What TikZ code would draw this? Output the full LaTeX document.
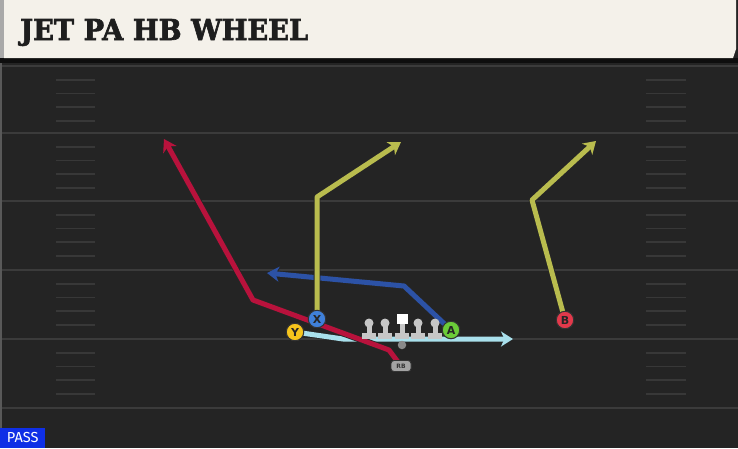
\documentclass[tikz,border=0pt]{standalone}
\usepackage{fontspec}
\usetikzlibrary{arrows.meta}
\newfontfamily\titlefont{DejaVu Serif}[BoldFont=* Bold, BoldFeatures={FakeBold=2.2}]
\newfontfamily\labelfont{DejaVu Sans}
\newfontfamily\passfont{Fira Sans}
\definecolor{fieldbg}{HTML}{242424}
\definecolor{fieldline}{HTML}{3B3B3B}
\definecolor{hashc}{HTML}{383838}
\definecolor{cream}{HTML}{F4F1EA}
\definecolor{edgegrey}{HTML}{A9A9A9}
\definecolor{titlec}{HTML}{1E1E1E}
\definecolor{redroute}{HTML}{B8123C}
\definecolor{blueroute}{HTML}{2C52A6}
\definecolor{oliveroute}{HTML}{B9BC4E}
\definecolor{cyanroute}{HTML}{A9E0EC}
\definecolor{ycol}{HTML}{F6C51C}
\definecolor{xcol}{HTML}{3F80DA}
\definecolor{acol}{HTML}{6BCB39}
\definecolor{bcol}{HTML}{E2394B}
\definecolor{olgrey}{HTML}{C6C6C6}
\definecolor{rbgrey}{HTML}{A3A3A3}
\definecolor{ballgrey}{HTML}{8A8A8A}
\definecolor{passblue}{HTML}{0F2FE6}
\pgfdeclarelayer{fieldlayer}
\pgfdeclarelayer{routelayer}
\pgfsetlayers{fieldlayer,routelayer,main}
\tikzset{
  route/.style={line width=5pt, line join=round, draw=#1,
    -{Stealth[length=12pt,width=15pt,inset=3.5pt]},
    preaction={draw=black!85, line width=6.6pt,
      -{Stealth[length=13.5pt,width=17pt,inset=4pt]}}},
  player/.style={circle, draw=black!80, line width=1pt, fill=#1,
    minimum size=17.5pt, inner sep=0pt, text=black!85,
    font=\labelfont\fontsize{11}{11}\selectfont\bfseries},
  yardline/.style={draw=fieldline, line width=2pt},
  hashmark/.style={draw=hashc, line width=1.8pt},
  olman/.pic={
    \fill[olgrey] (0,-2) circle (4.5);
    \fill[olgrey] (-2.5,-1) rectangle (2.5,9);
    \fill[olgrey] (-7,8) rectangle (7,13.5);
  },
  centerman/.pic={
    \fill[white] (-5.5,-11) rectangle (5.5,-1);
    \fill[olgrey] (-2.5,-1) rectangle (2.5,9);
    \fill[olgrey] (-7,8) rectangle (7,13.5);
  }
}
\begin{document}
\begin{tikzpicture}[x=1pt,y=-1pt]
\useasboundingbox (0,0) rectangle (738,448);
\begin{pgfonlayer}{fieldlayer}
  \fill[fieldbg] (0,0) rectangle (738,448);
  \fill[black!60!fieldbg] (0,58) rectangle (738,63);
  \fill[edgegrey!40!fieldbg] (0,63) rectangle (2,448);
  \foreach \yy in {66,133,201,270,339,408}
    \draw[yardline] (2,\yy) -- (738,\yy);
  \foreach \yy in {66,133,201,270,339}
    \foreach \k in {1,2,3,4}
      {\draw[hashmark] (56,\yy+13.7*\k) -- (95,\yy+13.7*\k);
       \draw[hashmark] (646,\yy+13.7*\k) -- (686,\yy+13.7*\k);}
  % header
  \fill[cream] (4,0) -- (736,0) -- (736,49) -- (733,58) -- (4,58) -- cycle;
  \fill[edgegrey] (0,0) rectangle (4,58);
\end{pgfonlayer}
\node[anchor=west, inner sep=0pt, text=titlec] (title) at (20,32.5)
  {\resizebox{288pt}{21pt}{\titlefont\bfseries JET PA HB WHEEL}};
% PASS tag
\node[fill=passblue, anchor=south west, minimum width=45pt, minimum height=20pt,
  inner sep=0pt, text=white, font=\passfont\fontsize{14.5}{14.5}\selectfont] (pass) at (0,448) {PASS};
% offensive line
\pic at (369,325) {olman};
\pic at (385,325) {olman};
\pic at (402,325) {centerman};
\pic at (418,325) {olman};
\pic at (435,325) {olman};
\node[circle, fill=ballgrey, minimum size=8.5pt, inner sep=0pt] (ball) at (402,345) {};
% players
\node[player=ycol] (Y) at (295,332) {Y};
\node[player=xcol] (X) at (317,319) {X};
\node[player=acol] (A) at (451,330) {A};
\node[player=bcol] (B) at (565,320) {B};
\node[rounded corners=3pt, fill=rbgrey, draw=black!80, line width=0.9pt,
  minimum width=20pt, minimum height=11pt, inner sep=0pt, text=black!80,
  font=\labelfont\fontsize{6}{6}\selectfont\bfseries] (RB) at (401,366) {RB};
% route points
\coordinate (yj1) at (343,339);
\coordinate (yjEnd) at (513,339);
\coordinate (rb1) at (389,350);
\coordinate (rb2) at (253,300);
\coordinate (rbEnd) at (164,139);
\coordinate (a1) at (404,286);
\coordinate (aEnd) at (267,273);
\coordinate (x1) at (317,197);
\coordinate (xEnd) at (401,142);
\coordinate (b1) at (532,200);
\coordinate (bEnd) at (596,141);
\begin{pgfonlayer}{routelayer}
  \draw[route=cyanroute] (Y.center) -- (yj1) -- (yjEnd);
  \draw[route=redroute] (RB.center) -- (rb1) -- (rb2) -- (rbEnd);
  \draw[route=blueroute] (A.center) -- (a1) -- (aEnd);
  \draw[route=oliveroute] (X.center) -- (x1) -- (xEnd);
  \draw[route=oliveroute] (B.center) -- (b1) -- (bEnd);
\end{pgfonlayer}
\end{tikzpicture}
\end{document}
